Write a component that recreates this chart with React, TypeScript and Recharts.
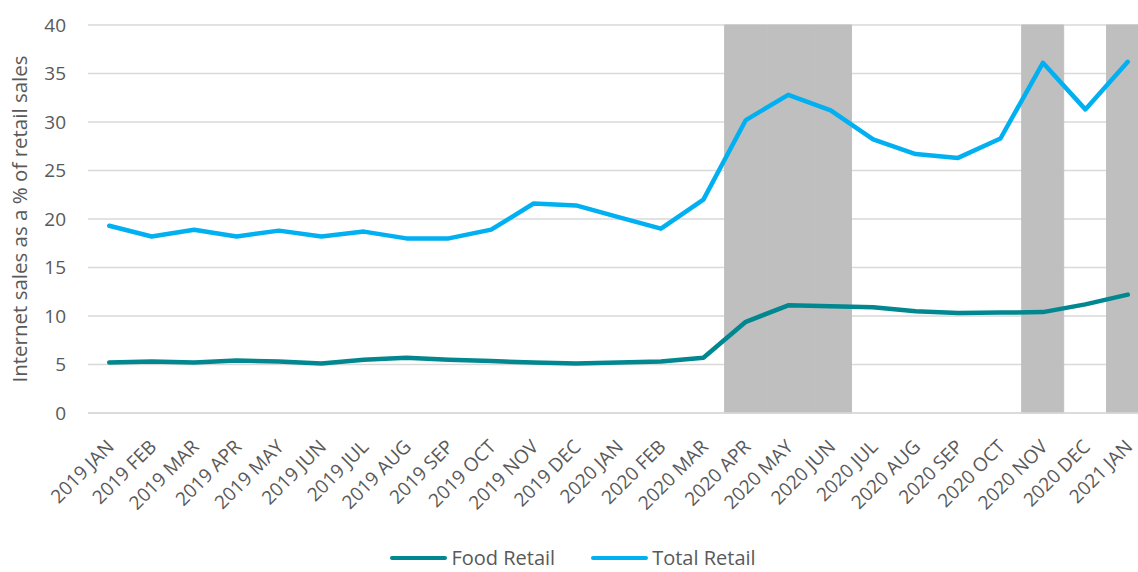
import React from "react"
import {
  Bar,
  CartesianGrid,
  ComposedChart,
  Legend,
  Line,
  XAxis,
  YAxis,
} from "recharts"

const months = [
  "2019 JAN", "2019 FEB", "2019 MAR", "2019 APR", "2019 MAY", "2019 JUN",
  "2019 JUL", "2019 AUG", "2019 SEP", "2019 OCT", "2019 NOV", "2019 DEC",
  "2020 JAN", "2020 FEB", "2020 MAR", "2020 APR", "2020 MAY", "2020 JUN",
  "2020 JUL", "2020 AUG", "2020 SEP", "2020 OCT", "2020 NOV", "2020 DEC",
  "2021 JAN",
]

const foodRetail = [
  5.2, 5.3, 5.2, 5.4, 5.3, 5.1, 5.5, 5.7, 5.5, 5.35, 5.2, 5.1,
  5.2, 5.3, 5.7, 9.4, 11.1, 11.0, 10.9, 10.5, 10.3, 10.35, 10.4, 11.2,
  12.2,
]

const totalRetail = [
  19.3, 18.2, 18.9, 18.2, 18.8, 18.2, 18.7, 18.0, 18.0, 18.9, 21.6, 21.4,
  20.2, 19.0, 22.0, 30.2, 32.8, 31.2, 28.2, 26.7, 26.3, 28.3, 36.1, 31.3,
  36.2,
]

// months shaded grey (lockdown periods)
const shadedMonths = ["2020 APR", "2020 MAY", "2020 JUN", "2020 NOV", "2021 JAN"]

const yTicks = [0, 5, 10, 15, 20, 25, 30, 35, 40]

const data = months.map((m, i) => ({
  name: m,
  food: foodRetail[i],
  total: totalRetail[i],
  shade: shadedMonths.includes(m) ? 40 : null,
}))

const FONT = "'Open Sans', sans-serif"
const TEXT = "#595959"

const MonthTick = (props: any) => {
  const { x, y, payload } = props
  return (
    <g transform={`translate(${x + 1},${y + 22})`}>
      <text
        x={0}
        y={0}
        textAnchor="end"
        dominantBaseline="central"
        transform="rotate(-45)"
        fill={TEXT}
        fontSize={19}
        fontFamily={FONT}
      >
        {payload.value}
      </text>
    </g>
  )
}

const LegendContent = (props: any) => {
  const items = (props.payload || []).filter((p: any) => p.type !== "none")
  return (
    <div
      style={{
        display: "flex",
        justifyContent: "center",
        alignItems: "center",
        gap: 36,
        fontFamily: FONT,
        fontSize: 20,
        lineHeight: "28px",
        height: 28,
        color: TEXT,
        paddingLeft: 16,
        boxSizing: "border-box",
        width: 1130,
      }}
    >
      {items.map((p: any) => (
        <div key={p.value} style={{ display: "flex", alignItems: "center" }}>
          <div
            style={{
              width: 57,
              height: 4,
              borderRadius: 2,
              background: p.color,
              marginRight: 4,
            }}
          />
          <span>{p.value}</span>
        </div>
      ))}
    </div>
  )
}

export default function App() {
  return (
    <div
      style={{
        position: "absolute",
        left: 0,
        top: 0,
        width: 1138,
        height: 572,
        overflow: "hidden",
        background: "#fff",
      }}
    >
      <ComposedChart
        width={1149}
        height={572}
        data={data}
        margin={{ top: 25, right: 0, left: 0, bottom: 0 }}
        barCategoryGap={0}
        barGap={0}
      >
        <CartesianGrid vertical={false} stroke="#d9d9d9" strokeWidth={1.5} />
        <XAxis
          dataKey="name"
          interval={0}
          height={131}
          tickLine={false}
          axisLine={{ stroke: "#d9d9d9", strokeWidth: 1.5 }}
          tick={<MonthTick />}
        />
        <YAxis
          width={88}
          domain={[0, 40]}
          ticks={yTicks}
          axisLine={false}
          tickLine={false}
          tickMargin={16}
          tick={{ fill: TEXT, fontSize: 19, fontFamily: FONT }}
          label={{
            content: (p: any) => {
              const vb = p.viewBox
              const cx = vb.x + 19
              const cy = vb.y + vb.height / 2
              return (
                <text
                  x={cx}
                  y={cy}
                  transform={`rotate(-90 ${cx} ${cy})`}
                  textAnchor="middle"
                  dominantBaseline="central"
                  fill={TEXT}
                  fontSize={20.5}
                  fontFamily={FONT}
                >
                  Internet sales as a % of retail sales
                </text>
              )
            },
          }}
        />
        <Legend
          verticalAlign="bottom"
          height={28}
          content={<LegendContent />}
        />
        <Bar
          dataKey="shade"
          fill="#bfbfbf"
          stroke="#bfbfbf"
          strokeWidth={1}
          legendType="none"
          isAnimationActive={false}
        />
        <Line
          type="linear"
          dataKey="food"
          name="Food Retail"
          stroke="#00878f"
          strokeWidth={4.5}
          strokeLinecap="round"
          strokeLinejoin="round"
          dot={false}
          activeDot={false}
          isAnimationActive={false}
        />
        <Line
          type="linear"
          dataKey="total"
          name="Total Retail"
          stroke="#00b0f0"
          strokeWidth={4.5}
          strokeLinecap="round"
          strokeLinejoin="round"
          dot={false}
          activeDot={false}
          isAnimationActive={false}
        />
      </ComposedChart>
    </div>
  )
}
